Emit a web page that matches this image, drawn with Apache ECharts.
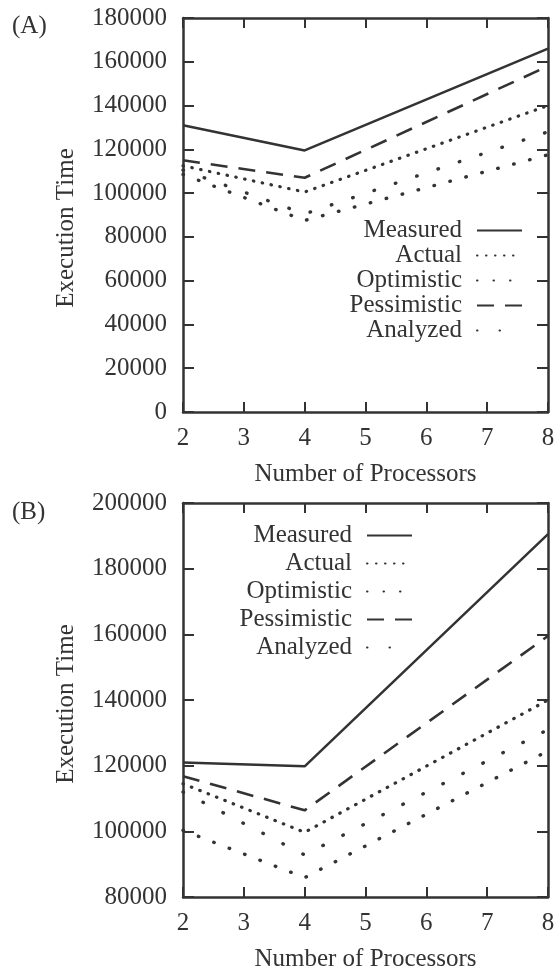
<!DOCTYPE html>
<html>
<head>
<meta charset="utf-8">
<style>
  html, body { margin: 0; padding: 0; background: #fff; }
  #chart { width: 556px; height: 970px; }
</style>
<script src="https://cdn.jsdelivr.net/npm/echarts@6/dist/echarts.min.js"></script>
</head>
<body>
<div id="chart"></div>
<script>
// ---- data ----
const processors = [2, 4, 8];
const seriesNames = ['Measured', 'Actual', 'Optimistic', 'Pessimistic', 'Analyzed'];

const measuredA    = [131000, 119500, 166000];
const actualA      = [112500, 100500, 140000];
const optimisticA  = [108500,  87500, 117500];
const pessimisticA = [115000, 107000, 158000];
const analyzedA    = [110500,  90500, 128000];

const measuredB    = [121000, 119800, 190500];
const actualB      = [114500,  99700, 140000];
const optimisticB  = [100300,  85900, 124500];
const pessimisticB = [116800, 106400, 159500];
const analyzedB    = [112000,  92800, 131000];

const xTicks = [2, 3, 4, 5, 6, 7, 8];
const yTicksA = [0, 20000, 40000, 60000, 80000, 100000, 120000, 140000, 160000, 180000];
const yTicksB = [80000, 100000, 120000, 140000, 160000, 180000, 200000];

// ---- styling ----
const INK = '#333';
const FONT = '"Liberation Serif", "DejaVu Serif", serif';
const styles = {
  Measured:    { type: 'solid', width: 2.5, cap: 'butt' },
  Actual:      { type: [0.5, 8.5], width: 3.2, cap: 'round' },
  Optimistic:  { type: [0.5, 16], width: 3.4, cap: 'round' },
  Pessimistic: { type: [17, 11], width: 2.6, cap: 'butt' },
  Analyzed:    { type: [0.5, 22], width: 3.4, cap: 'round' }
};

function pairs(vals) { return processors.map((p, i) => [p, vals[i]]); }
function plain(v) { return String(v); }

function xAxes(gi) {
  const base = {
    gridIndex: gi, type: 'value',
    min: xTicks[0], max: xTicks[xTicks.length - 1], interval: 1,
    axisLine: { show: true, onZero: false, lineStyle: { color: INK, width: 2.5 } },
    axisTick: { show: true, inside: true, length: 10, lineStyle: { color: INK, width: 2 } },
    splitLine: { show: false }
  };
  return [
    Object.assign({}, base, {
      position: 'bottom',
      name: 'Number of Processors', nameLocation: 'middle', nameGap: 50,
      nameTextStyle: { fontFamily: FONT, fontSize: 25, color: INK },
      axisLabel: { fontFamily: FONT, fontSize: 25, color: INK, margin: 14, formatter: plain }
    }),
    Object.assign({}, base, { position: 'top', axisLabel: { show: false } })
  ];
}

function yAxes(gi, ticks, namePad) {
  const base = {
    gridIndex: gi, type: 'value',
    min: ticks[0], max: ticks[ticks.length - 1], interval: 20000,
    axisLine: { show: true, onZero: false, lineStyle: { color: INK, width: 2.5 } },
    axisTick: { show: true, inside: true, length: 11, lineStyle: { color: INK, width: 2 } },
    splitLine: { show: false }
  };
  return [
    Object.assign({}, base, {
      position: 'left',
      name: 'Execution Time', nameLocation: 'middle', nameGap: 104,
      nameTextStyle: { fontFamily: FONT, fontSize: 25, color: INK, padding: namePad },
      axisLabel: { fontFamily: FONT, fontSize: 25, color: INK, margin: 16,
                   padding: [10, 0, 0, 0], formatter: plain }
    }),
    Object.assign({}, base, { position: 'right', axisLabel: { show: false } })
  ];
}

function makeSeries(gi, xi, yi, lists) {
  return seriesNames.map((n, k) => ({
    name: n, type: 'line', xAxisIndex: xi, yAxisIndex: yi,
    data: pairs(lists[k]),
    symbol: 'none', showSymbol: false, silent: true, animation: false,
    lineStyle: { color: INK, width: styles[n].width, type: styles[n].type, cap: styles[n].cap },
    itemStyle: { color: INK }
  }));
}

function legendAt(right, top, gap) {
  return {
    orient: 'vertical', right: right, top: top, align: 'right',
    itemWidth: 45, itemHeight: 14, itemGap: gap,
    data: seriesNames, selectedMode: false,
    itemStyle: { color: 'rgba(0,0,0,0)', borderWidth: 0, opacity: 0 },
    textStyle: { fontFamily: FONT, fontSize: 25, color: INK, lineHeight: 25,
                 padding: [0, 10, 0, 0] },
    padding: 0
  };
}

const option = {
  backgroundColor: '#fff',
  animation: false,
  grid: [
    { left: 183, right: 8, top: 18, height: 394, containLabel: false, outerBoundsMode: 'none' },
    { left: 183, right: 8, top: 503, height: 394, containLabel: false, outerBoundsMode: 'none' }
  ],
  xAxis: [].concat(xAxes(0), xAxes(1)),
  yAxis: [].concat(yAxes(0, yTicksA, [0, 26, 0, 0]), yAxes(1, yTicksB, [0, 8, 0, 0])),
  legend: [legendAt(33, 218, 0), legendAt(143, 523, 3)],
  graphic: [
    { type: 'text', left: 12, top: 14, style: { text: '(A)', fontFamily: FONT, fontSize: 25, fill: INK } },
    { type: 'text', left: 12, top: 500, style: { text: '(B)', fontFamily: FONT, fontSize: 25, fill: INK } }
  ],
  series: [].concat(
    makeSeries(0, 0, 0, [measuredA, actualA, optimisticA, pessimisticA, analyzedA]),
    makeSeries(1, 2, 2, [measuredB, actualB, optimisticB, pessimisticB, analyzedB])
  )
};

const chart = echarts.init(document.getElementById('chart'), null, { renderer: 'canvas' });
chart.setOption(option);
</script>
</body>
</html>
